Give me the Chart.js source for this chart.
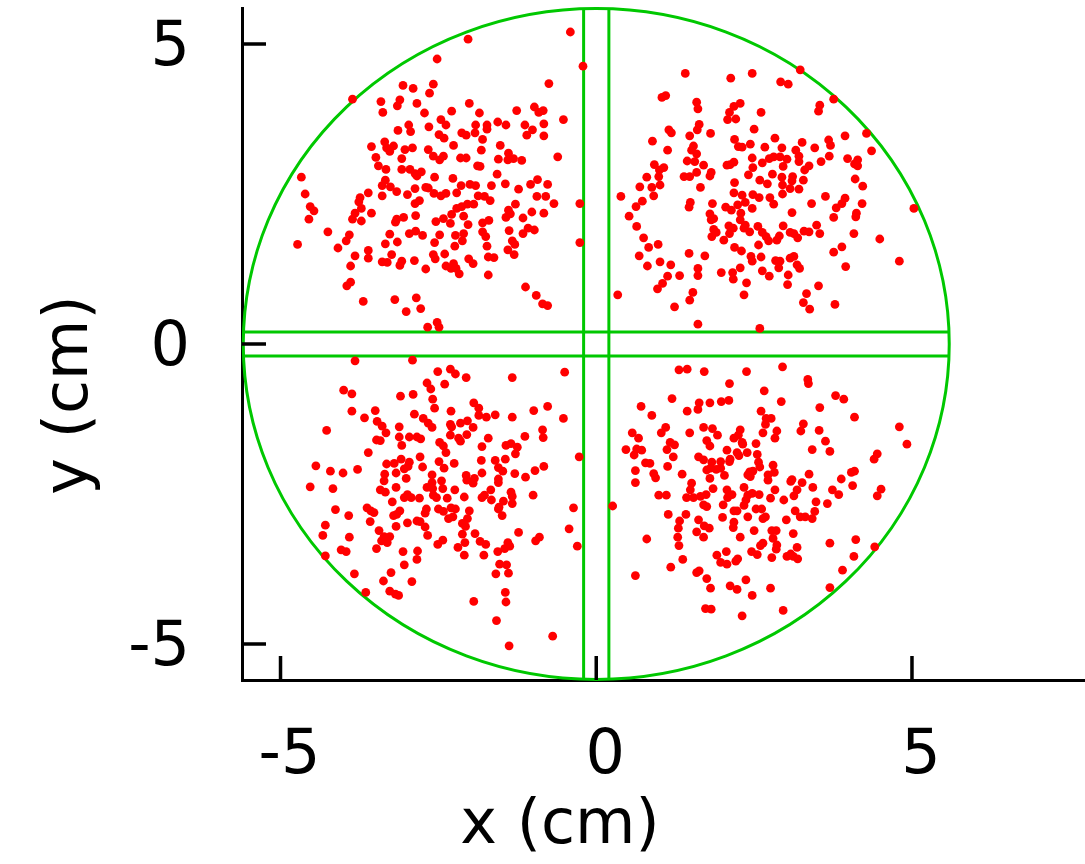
<!DOCTYPE html>
<html>
<head>
<meta charset="utf-8">
<script src="https://cdn.jsdelivr.net/npm/chart.js@4.4.1/dist/chart.umd.min.js"></script>
<style>
    html, body { margin: 0; padding: 0; background: #fff; }
    #wrap { width: 1085px; height: 864px; }
</style>
</head>
<body>
<div id="wrap"><canvas id="hitsChart" width="1085" height="864"></canvas></div>
<script>
const xTicks = [-5, 0, 5];
const yTicks = [-5, 0, 5];
const xRange = [-5.61, 7.74];
const yRange = [-5.6, 5.6];
const xTitle = 'x (cm)';
const yTitle = 'y (cm)';

// detector outline (cm): circle radius and half width of the gap between quadrants
const detectorRadius = 5.59;
const gapHalfWidth = 0.2;

// hit positions [x, y] in cm
const upperLeft = [
    [-3.06,4.31],[-2.90,4.26],[-2.58,4.33],[-0.75,4.34],[-2.64,4.18],[-3.86,4.08],[-3.41,4.04],[-3.11,4.07],
    [-3.15,3.97],[-2.84,4.01],[-2.01,4.01],[-3.38,3.86],[-2.72,3.85],[-2.29,3.88],[-1.85,3.85],[-1.26,3.89],
    [-0.98,3.95],[-0.91,3.86],[-0.84,3.89],[-0.52,3.74],[-2.46,3.74],[-2.38,3.65],[-1.91,3.65],[-1.73,3.65],
    [-1.73,3.58],[-1.56,3.70],[-1.43,3.65],[-1.13,3.65],[-0.83,3.67],[-1.01,3.57],[-1.10,3.48],[-0.83,3.47],
    [-2.97,3.65],[-2.94,3.54],[-3.14,3.56],[-2.65,3.62],[-2.49,3.49],[-2.41,3.43],[-2.13,3.52],[-2.06,3.48],
    [-1.92,3.52],[-1.80,3.41],[-3.56,3.29],[-3.35,3.37],[-3.32,3.27],[-3.21,3.30],[-3.27,3.21],[-3.03,3.24],
    [-2.91,3.27],[-2.66,3.24],[-2.58,3.13],[-2.42,3.13],[-2.48,3.07],[-2.26,3.31],[-2.15,3.10],[-2.06,3.10],
    [-1.82,3.23],[-1.52,3.31],[-1.39,3.18],[-1.55,3.08],[-1.40,3.07],[-1.31,3.09],[-1.18,3.06],[-0.61,3.12],
    [-3.49,3.11],[-3.08,3.09],[-3.45,2.97],[-3.33,2.91],[-3.08,2.91],[-2.95,2.91],[-2.87,2.84],[-2.77,2.87],
    [-2.84,2.80],[-2.56,2.78],[-2.27,2.76],[-1.88,2.97],[-1.84,2.96],[-1.57,2.83],[-3.34,2.73],[-0.93,2.74],
    [-4.67,2.78],[-3.39,2.64],[-3.26,2.62],[-2.70,2.61],[-2.66,2.60],[-2.14,2.64],[-2.00,2.66],[-1.91,2.64],
    [-1.66,2.64],[-1.44,2.67],[-1.04,2.66],[-0.77,2.66],[-2.87,2.59],[-1.23,2.58],
    [-2.03,5.08],[-2.52,4.75],[-0.41,5.20],[-0.21,4.63],
    [-4.61,2.50],[-3.74,2.44],[-3.61,2.52],[-3.39,2.47],[-3.16,2.54],[-2.99,2.49],[-2.57,2.51],[-2.46,2.47],
    [-2.38,2.51],[-2.21,2.52],[-1.87,2.47],[-1.77,2.46],[-1.68,2.39],[-0.94,2.46],[-0.80,2.46],[-0.67,2.34],
    [-3.76,2.37],[-3.72,2.26],[-4.53,2.29],[-4.47,2.22],[-4.55,2.08],[-3.56,2.18],[-3.82,2.18],[-3.86,2.08],
    [-3.72,2.05],[-3.16,2.08],[-3.05,2.11],[-3.18,2.03],[-2.86,2.14],[-2.87,2.34],[-2.80,2.39],[-2.54,2.04],
    [-2.42,2.09],[-2.31,2.01],[-2.29,2.16],[-2.21,2.26],[-2.13,2.29],[-2.04,2.33],[-1.94,2.33],[-2.10,2.13],
    [-2.03,1.99],[-1.80,2.02],[-1.70,2.06],[-1.39,2.23],[-1.43,2.11],[-1.36,2.17],[-1.28,2.33],[-1.02,2.20],
    [-0.83,2.18],[-1.16,2.10],[-1.38,1.89],[-1.08,1.93],[-0.98,1.90],[-1.16,1.84],[-4.25,1.87],[-3.91,1.82],
    [-3.96,1.72],[-4.09,1.60],[-4.73,1.66],[-3.27,1.83],[-3.15,1.70],[-3.34,1.67],[-2.96,1.84],[-2.86,1.88],
    [-2.75,1.81],[-2.48,1.82],[-2.56,1.69],[-2.23,1.81],[-2.10,1.84],[-2.12,1.72],[-2.24,1.63],[-1.80,1.87],
    [-1.75,1.79],[-1.73,1.63],[-1.33,1.72],[-1.29,1.66],[-1.40,1.57],[-1.30,1.49],[-0.26,2.34],[-0.26,1.69],
    [-3.61,1.56],[-3.61,1.43],[-3.82,1.47],[-3.89,1.30],[-3.24,1.49],[-3.39,1.37],[-3.31,1.36],[-3.08,1.38],
    [-3.11,1.31],[-2.88,1.39],[-2.70,1.25],[-2.58,1.49],[-2.55,1.42],[-2.40,1.50],[-2.38,1.30],[-2.30,1.26],
    [-2.26,1.34],[-2.22,1.26],[-2.17,1.17],[-2.02,1.42],[-1.95,1.34],[-1.71,1.45],[-1.62,1.44],[-1.71,1.15],
    [-3.89,1.03],[-3.95,0.97],[-3.69,0.71],[-3.19,0.74],[-3.01,0.54],[-2.85,0.77],[-2.78,0.59],[-1.12,0.95],
    [-0.95,0.81],[-0.85,0.67],[-0.77,0.64],[-2.67,0.28],[-2.52,0.36],[-2.49,0.28]
];

const upperRight = [
    [1.41,4.51],[2.13,4.43],[2.47,4.51],[3.23,4.57],[2.92,4.37],[3.04,4.33],[1.04,4.11],[1.10,4.14],
    [1.59,4.03],[1.61,3.92],[2.28,4.01],[2.18,3.96],[2.11,3.86],[2.08,3.74],[2.21,3.75],[2.61,3.86],
    [3.54,3.98],[3.52,3.88],[3.76,4.08],[1.15,3.57],[1.19,3.52],[1.63,3.66],[1.60,3.57],[1.48,3.47],
    [1.81,3.51],[0.89,3.38],[1.13,3.23],[2.50,3.58],[2.19,3.41],[2.25,3.29],[2.31,3.28],[2.44,3.33],
    [2.83,3.43],[2.67,3.28],[2.94,3.27],[3.26,3.36],[3.16,3.23],[3.46,3.27],[3.68,3.40],[3.71,3.31],
    [3.94,3.47],[4.28,3.51],[4.36,3.22],[1.54,3.30],[1.51,3.23],[1.59,3.17],[1.44,3.05],[1.56,3.04],
    [1.70,2.98],[1.82,2.86],[1.80,2.80],[1.39,2.79],[1.48,2.79],[1.59,2.86],[0.92,2.99],[1.07,2.94],
    [1.00,2.90],[0.99,2.79],[0.80,2.78],[1.01,2.65],[0.69,2.62],[0.88,2.61],[2.07,2.98],[2.12,2.99],
    [2.18,3.03],[2.47,3.10],[2.48,2.94],[2.41,2.82],[2.63,3.02],[2.74,3.09],[2.81,3.12],[2.91,3.12],
    [3.02,3.08],[3.21,3.13],[3.21,3.04],[3.30,2.90],[3.37,2.97],[2.96,2.96],[2.79,2.83],[2.59,2.73],
    [2.71,2.67],[2.94,2.78],[3.11,2.79],[3.10,2.72],[2.95,2.65],[3.28,2.73],[3.07,2.59],[3.21,2.58],
    [3.56,3.04],[3.69,3.13],[3.98,3.09],[4.14,3.07],[4.09,3.00],[4.14,2.97],[4.10,2.75],[4.22,2.63],
    [2.19,2.69],[1.65,2.61],
    [0.39,2.46],[0.73,2.38],[0.91,2.47],[0.63,2.29],[0.52,2.13],[1.49,2.36],[1.47,2.28],[1.84,2.34],
    [2.18,2.52],[2.31,2.48],[2.36,2.36],[2.24,2.32],[2.05,2.28],[2.14,2.23],[2.29,2.18],[2.47,2.26],
    [2.48,2.49],[2.58,2.44],[2.75,2.44],[2.81,2.33],[2.95,2.50],[3.10,2.19],[1.80,2.17],[1.86,2.09],
    [1.82,2.07],[2.28,2.07],[2.36,1.98],[2.34,1.93],[2.43,1.87],[2.10,1.97],[2.17,1.93],[2.11,1.84],
    [1.86,1.91],[1.90,1.86],[1.83,1.79],[2.02,1.73],[2.56,1.96],[2.63,1.86],[2.69,1.79],[2.73,1.72],
    [2.86,1.73],[2.90,1.80],[2.96,1.97],[3.07,1.86],[3.13,1.84],[3.19,1.77],[3.29,1.88],[3.37,1.87],
    [3.49,1.98],[3.54,1.84],[3.63,2.46],[3.41,2.34],[3.80,2.27],[3.89,2.34],[3.94,2.43],[3.76,2.11],
    [4.12,2.18],[4.11,2.12],[4.21,2.34],[4.08,1.84],[4.49,1.75],[4.80,1.38],[5.03,2.26],[0.64,1.96],
    [0.75,1.77],[0.83,1.61],[0.98,1.66],[0.68,1.47],[0.81,1.30],[1.01,1.37],[1.18,1.32],[1.13,1.13],
    [1.32,1.14],[1.05,1.01],[0.97,0.92],[0.34,0.82],[1.47,1.51],[1.72,1.47],[1.61,1.26],[1.61,1.14],
    [1.53,0.86],[1.48,0.73],[1.24,0.62],[1.98,1.19],[2.16,1.19],[2.17,1.08],[2.28,1.27],[2.38,1.02],
    [2.34,0.82],[2.19,1.61],[2.30,1.55],[2.57,1.65],[2.45,1.46],[2.47,1.38],[2.61,1.45],[2.63,1.22],
    [2.74,1.13],[2.84,1.39],[2.91,1.38],[2.89,1.27],[3.04,1.15],[3.03,0.99],[3.07,1.43],[3.13,1.46],
    [3.18,1.32],[3.22,1.26],[3.76,1.53],[3.89,1.62],[3.95,1.29],[3.52,0.97],[3.33,0.84],[3.28,0.69],
    [3.38,0.58],[3.78,0.66],[1.61,0.33],[2.59,0.26]
];

const lowerLeft = [
    [-3.82,-0.28],[-2.91,-0.27],[-2.51,-0.46],[-2.31,-0.42],[-2.23,-0.50],[-2.06,-0.56],[-1.33,-0.56],[-0.50,-0.47],
    [-2.68,-0.65],[-2.62,-0.75],[-2.40,-0.67],[-4.00,-0.77],[-3.87,-0.83],[-3.10,-0.87],[-2.90,-0.84],[-2.59,-0.92],
    [-2.56,-1.07],[-3.87,-1.12],[-3.67,-1.23],[-3.50,-1.11],[-3.47,-1.29],[-3.39,-1.37],[-3.33,-1.48],[-3.12,-1.38],
    [-2.88,-1.17],[-2.74,-1.24],[-2.66,-1.32],[-2.60,-1.39],[-2.30,-1.12],[-2.31,-1.34],[-2.29,-1.38],[-2.15,-1.32],
    [-2.04,-1.28],[-1.95,-1.39],[-1.94,-0.98],[-1.86,-1.07],[-1.86,-1.19],[-1.74,-1.22],[-1.60,-1.18],[-1.33,-1.22],
    [-0.99,-1.11],[-0.77,-1.04],[-0.52,-1.24],[-4.27,-1.44],[-3.48,-1.60],[-3.42,-1.61],[-3.12,-1.55],[-3.08,-1.69],
    [-2.96,-1.55],[-2.84,-1.55],[-2.78,-1.58],[-2.48,-1.64],[-2.42,-1.70],[-2.38,-1.81],[-2.31,-1.52],[-2.18,-1.57],
    [-2.15,-1.62],[-2.05,-1.51],[-1.71,-1.57],[-1.81,-1.71],[-1.43,-1.69],[-1.35,-1.66],[-1.25,-1.72],[-1.28,-1.83],
    [-1.13,-1.54],[-0.85,-1.43],[-0.84,-1.56],[-0.27,-1.88],[-3.61,-1.81],[-2.79,-1.88],[-3.09,-1.92],[-3.20,-1.99],
    [-3.32,-2.00],[-2.96,-1.97],[-2.98,-2.04],[-3.04,-2.08],[-2.75,-2.05],[-2.49,-1.96],[-2.41,-2.07],[-2.25,-1.99],
    [-1.82,-1.94],[-1.60,-1.94],[-1.44,-1.92],[-1.55,-2.06],[-1.48,-2.12],[-1.29,-2.16],[-1.12,-2.22],[-0.97,-2.11],
    [-0.83,-2.04],[-1.81,-2.15],[-4.44,-2.03],[-4.21,-2.12],[-4.01,-2.15],[-3.78,-2.09],[-3.35,-2.17],[-3.36,-2.28],
    [-3.17,-2.15],[-3.01,-2.24],[-2.60,-2.18],[-2.60,-2.31],[-2.45,-2.28],[-2.06,-2.19],[-2.05,-2.27],[-1.93,-2.24],
    [-1.95,-2.32],[-1.55,-2.25],[-1.55,-2.31],
    [-4.53,-2.38],[-4.17,-2.41],[-3.42,-2.43],[-3.34,-2.47],[-3.17,-2.39],[-3.04,-2.56],[-2.99,-2.51],[-2.93,-2.56],
    [-2.80,-2.57],[-2.68,-2.39],[-2.59,-2.41],[-2.53,-2.56],[-2.58,-2.52],[-2.43,-2.41],[-2.24,-2.43],[-2.36,-2.57],
    [-2.09,-2.55],[-1.81,-2.56],[-1.77,-2.52],[-1.66,-2.60],[-1.67,-2.43],[-1.35,-2.47],[-1.33,-2.54],[-1.47,-2.62],
    [-1.33,-2.66],[-1.54,-2.72],[-1.55,-2.75],[-1.49,-2.86],[-1.00,-2.52],[-4.13,-2.76],[-3.92,-2.86],[-4.29,-3.02],
    [-4.33,-3.19],[-3.91,-3.22],[-3.63,-2.73],[-3.57,-2.78],[-3.52,-2.81],[-3.58,-2.96],[-3.23,-2.63],[-3.11,-2.78],
    [-3.21,-2.86],[-3.16,-2.84],[-2.69,-2.75],[-2.71,-2.82],[-2.50,-2.75],[-2.42,-2.79],[-2.30,-2.73],[-2.23,-2.75],
    [-2.34,-2.91],[-2.27,-2.88],[-2.01,-2.78],[-2.04,-2.91],[-2.12,-2.99],[-2.07,-3.04],[-2.99,-2.98],[-2.84,-2.95],
    [-2.79,-2.96],[-2.71,-3.05],[-3.17,-3.04],[-3.44,-3.11],[-3.36,-3.21],[-3.27,-3.21],[-3.40,-3.28],[-3.31,-3.31],
    [-3.48,-3.41],[-2.67,-3.19],[-2.51,-3.34],[-2.43,-3.27],[-2.12,-3.17],[-1.92,-3.16],[-1.84,-3.29],[-1.75,-3.34],
    [-2.08,-3.31],[-2.19,-3.39],[-2.09,-3.52],[-1.78,-3.52],[-1.56,-3.46],[-1.40,-3.31],[-1.37,-3.37],[-1.45,-3.41],
    [-1.23,-3.14],[-0.96,-3.28],[-0.90,-3.22],[-0.36,-2.73],[-0.43,-3.08],[-0.30,-3.37],[-4.29,-3.53],[-4.04,-3.43],
    [-3.96,-3.46],[-3.06,-3.46],[-2.83,-3.45],[-2.84,-3.59],[-3.04,-3.68],[-3.83,-3.83],[-3.25,-3.81],[-3.37,-3.95],
    [-2.92,-3.96],[-3.65,-4.14],[-3.27,-4.12],[-3.18,-4.17],[-3.13,-4.19],[-1.53,-3.67],[-1.42,-3.68],[-1.59,-3.83],
    [-1.39,-3.82],[-1.44,-4.14],[-1.43,-4.30],[-1.94,-4.29],[-1.58,-4.61],[-0.69,-4.87],[-1.38,-5.03]
];

const lowerRight = [
    [1.31,-0.43],[1.44,-0.42],[1.71,-0.46],[2.38,-0.46],[2.95,-0.38],[3.35,-0.59],[3.36,-0.66],[2.11,-0.66],
    [2.66,-0.78],[1.20,-0.91],[1.63,-0.98],[1.80,-0.98],[1.61,-1.09],[1.44,-1.12],[1.98,-0.96],[2.10,-0.94],
    [2.93,-0.96],[0.71,-1.04],[0.88,-1.19],[3.54,-1.06],[3.79,-0.86],[3.92,-0.92],[4.09,-1.22],[2.61,-1.12],
    [2.69,-1.24],[2.77,-1.24],[2.68,-1.34],[2.64,-1.48],[2.86,-1.45],[2.83,-1.57],[3.28,-1.33],[3.24,-1.45],
    [3.53,-1.44],[3.63,-1.62],[3.70,-1.79],[3.42,-1.76],[4.80,-1.38],[4.92,-1.67],[0.57,-1.48],[0.67,-1.57],
    [1.03,-1.48],[1.10,-1.39],[1.48,-1.48],[1.70,-1.39],[1.84,-1.41],[1.92,-1.52],[1.75,-1.61],[1.80,-1.70],
    [2.28,-1.43],[2.25,-1.52],[2.18,-1.57],[2.31,-1.64],[2.32,-1.67],[2.53,-1.66],[2.39,-1.81],[2.55,-1.84],
    [1.17,-1.64],[1.24,-1.68],[1.12,-1.76],[1.22,-1.88],[0.47,-1.76],[0.64,-1.75],[0.72,-1.77],[0.60,-1.85],
    [2.07,-1.77],[2.23,-1.81],[2.26,-1.86],[2.12,-1.92],[2.11,-1.96],[1.62,-1.88],[1.70,-1.93],[1.83,-1.97],
    [1.97,-1.96],[1.75,-2.10],[1.81,-2.07],[1.90,-2.09],[1.97,-2.07],[2.03,-2.19],[1.80,-2.24],[2.57,-1.97],
    [2.59,-2.05],[2.80,-2.02],[2.82,-2.14],[2.43,-2.13],[2.40,-2.18],[2.48,-2.12],[2.72,-2.18],[2.72,-2.27],
    [2.44,-2.21],[1.13,-2.04],[0.78,-1.98],[0.85,-1.99],[0.62,-2.11],[0.91,-2.16],[0.94,-2.23],[1.36,-2.17],
    [0.62,-2.31],[1.51,-2.32],[3.37,-2.17],[3.10,-2.26],[3.08,-2.29],[3.26,-2.31],[3.88,-2.25],[4.04,-2.14],
    [4.09,-2.12],[4.45,-1.83],[4.40,-1.92],
    [0.26,-2.70],[0.80,-3.25],[0.62,-3.86],[0.99,-2.52],[1.11,-2.52],[1.49,-2.43],[1.54,-2.56],[1.43,-2.56],
    [1.65,-2.54],[1.74,-2.51],[1.70,-2.68],[1.75,-2.71],[1.85,-2.41],[2.01,-2.68],[2.07,-2.43],[2.15,-2.51],
    [2.08,-2.56],[2.34,-2.39],[2.40,-2.52],[2.37,-2.60],[2.34,-2.69],[2.47,-2.49],[2.58,-2.51],[2.53,-2.75],
    [2.62,-2.75],[2.76,-2.57],[2.83,-2.43],[2.97,-2.60],[3.13,-2.53],[3.18,-2.43],[3.43,-2.39],[3.48,-2.63],
    [3.66,-2.66],[3.74,-2.43],[3.84,-2.51],[4.06,-2.36],[4.51,-2.42],[4.45,-2.53],[1.14,-2.84],[1.42,-2.84],
    [1.32,-2.95],[1.30,-3.07],[1.29,-3.22],[1.31,-3.36],[1.37,-3.59],[1.18,-3.72],[1.62,-2.93],[1.71,-3.03],
    [1.79,-3.07],[1.59,-3.13],[1.70,-3.22],[2.00,-2.89],[2.18,-2.78],[2.23,-2.78],[2.18,-2.97],[2.17,-3.06],
    [2.40,-2.88],[2.64,-2.91],[2.68,-2.88],[3.01,-2.93],[3.15,-2.78],[3.23,-2.88],[3.31,-2.88],[3.42,-2.91],
    [3.46,-2.79],[2.50,-3.11],[2.78,-3.11],[2.85,-3.11],[2.80,-3.24],[2.86,-3.35],[2.85,-3.42],[2.64,-3.32],
    [2.60,-3.36],[3.12,-3.16],[3.18,-3.39],[3.08,-3.50],[3.12,-3.54],[3.02,-3.54],[3.19,-3.58],[2.78,-3.56],
    [2.46,-3.46],[2.55,-3.51],[2.28,-3.22],[2.06,-3.46],[1.91,-3.52],[1.97,-3.64],[2.07,-3.67],[2.21,-3.62],
    [2.24,-3.58],[1.59,-3.81],[1.63,-3.78],[1.75,-3.91],[1.81,-4.07],[2.12,-4.03],[2.23,-4.09],[2.37,-3.93],
    [2.47,-4.19],[2.76,-4.07],[1.73,-4.41],[1.82,-4.42],[2.31,-4.53],[2.96,-4.44],[3.70,-4.06],[3.90,-3.77],
    [4.08,-3.54],[4.11,-3.26],[3.70,-3.32],[4.41,-3.38]
];

const hits = [...upperLeft, ...upperRight, ...lowerLeft, ...lowerRight].map(([x, y]) => ({ x, y }));

const fontFamily = "'DejaVu Sans', sans-serif";

// green detector outline and cross-shaped gap, drawn under the hits
const detectorOutline = {
    id: 'detectorOutline',
    beforeDatasetsDraw(chart) {
        const { ctx, scales: { x, y } } = chart;
        const cx = x.getPixelForValue(0);
        const cy = y.getPixelForValue(0);
        const rx = x.getPixelForValue(detectorRadius) - cx;
        const ry = cy - y.getPixelForValue(detectorRadius);

        ctx.save();
        ctx.strokeStyle = '#00c800';
        ctx.lineWidth = 3;
        ctx.beginPath();
        ctx.ellipse(cx, cy, rx, ry, 0, 0, Math.PI * 2);
        ctx.stroke();

        ctx.beginPath();
        ctx.ellipse(cx, cy, rx, ry, 0, 0, Math.PI * 2);
        ctx.clip();
        ctx.beginPath();
        for (const g of [-gapHalfWidth, gapHalfWidth]) {
            const px = x.getPixelForValue(g);
            ctx.moveTo(px, cy - ry);
            ctx.lineTo(px, cy + ry);
            const py = y.getPixelForValue(g);
            ctx.moveTo(cx - rx, py);
            ctx.lineTo(cx + rx, py);
        }
        ctx.stroke();
        ctx.restore();
    }
};

// tick marks pointing into the plot
const inwardTicks = {
    id: 'inwardTicks',
    beforeDatasetsDraw(chart) {
        const { ctx, chartArea, scales: { x, y } } = chart;
        ctx.save();
        ctx.strokeStyle = '#000';
        ctx.lineWidth = 3.5;
        ctx.beginPath();
        xTicks.forEach(v => {
            const px = x.getPixelForValue(v);
            ctx.moveTo(px, chartArea.bottom);
            ctx.lineTo(px, chartArea.bottom - 24);
        });
        yTicks.forEach(v => {
            const py = y.getPixelForValue(v);
            ctx.moveTo(chartArea.left, py);
            ctx.lineTo(chartArea.left + 24, py);
        });
        ctx.stroke();
        ctx.restore();
    }
};

const axisTitles = {
    id: 'axisTitles',
    afterDraw(chart) {
        const { ctx } = chart;
        ctx.save();
        ctx.fillStyle = '#000';
        ctx.font = `62px ${fontFamily}`;
        ctx.textAlign = 'center';
        ctx.textBaseline = 'alphabetic';
        ctx.fillText(xTitle, 560, 843);
        ctx.translate(87, 395);
        ctx.rotate(-Math.PI / 2);
        ctx.fillText(yTitle, 0, 0);
        ctx.restore();
    }
};

const ctx = document.getElementById('hitsChart').getContext('2d');

// eslint-disable-next-line no-undef
new Chart(ctx, {
    type: 'scatter',
    data: {
        datasets: [{
            data: hits,
            backgroundColor: '#ff0000',
            borderWidth: 0,
            pointRadius: 4.4,
            pointHoverRadius: 4.4
        }]
    },
    options: {
        responsive: false,
        animation: false,
        events: [],
        layout: {
            autoPadding: false,
            padding: { top: 8, right: 0, left: 0, bottom: 0 }
        },
        plugins: {
            legend: { display: false },
            tooltip: { enabled: false }
        },
        scales: {
            x: {
                type: 'linear',
                min: xRange[0],
                max: xRange[1],
                afterBuildTicks: s => { s.ticks = xTicks.map(v => ({ value: v })); },
                afterFit: s => {
                    s.height = 184;
                    s.paddingLeft = 0;
                    s.paddingRight = 0;
                    s.paddingTop = 0;
                    s.paddingBottom = 0;
                },
                grid: { display: false, drawTicks: false },
                border: { display: true, color: '#000', width: 3 },
                ticks: {
                    color: '#000',
                    font: { family: fontFamily, size: 62 },
                    padding: 40,
                    labelOffset: 9,
                    maxRotation: 0,
                    autoSkip: false,
                    callback: v => String(v)
                }
            },
            y: {
                type: 'linear',
                min: yRange[0],
                max: yRange[1],
                afterBuildTicks: s => { s.ticks = yTicks.map(v => ({ value: v })); },
                afterFit: s => {
                    s.width = 242;
                    s.paddingLeft = 0;
                    s.paddingRight = 0;
                    s.paddingTop = 0;
                    s.paddingBottom = 0;
                },
                grid: { display: false, drawTicks: false },
                border: { display: true, color: '#000', width: 3 },
                ticks: {
                    color: '#000',
                    font: { family: fontFamily, size: 62 },
                    padding: 52,
                    labelOffset: 5,
                    autoSkip: false,
                    callback: v => String(v)
                }
            }
        }
    },
    plugins: [detectorOutline, inwardTicks, axisTitles]
});
</script>
</body>
</html>
